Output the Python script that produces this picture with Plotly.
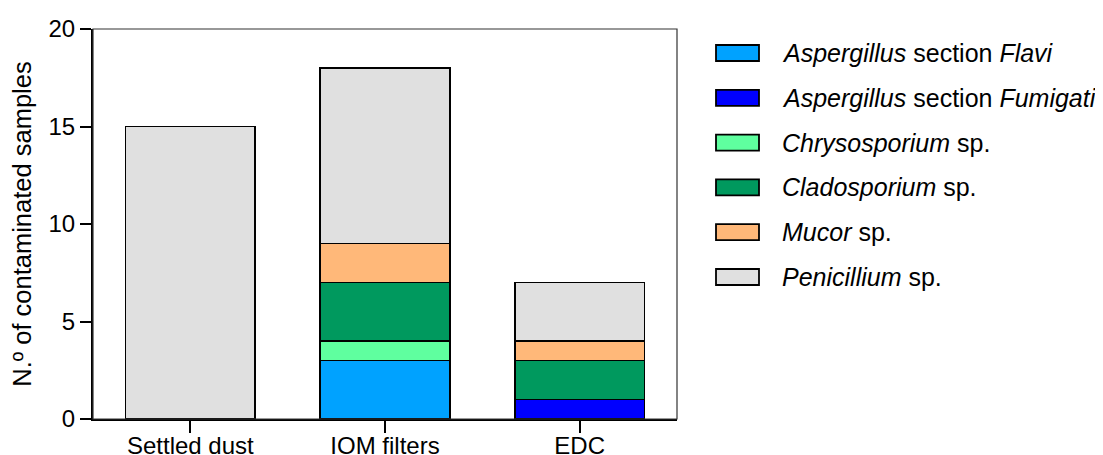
import plotly.graph_objects as go

categories = ["Settled dust", "IOM filters", "EDC"]
series_names = [
    "<i>Aspergillus</i> section <i>Flavi</i>",
    "<i>Aspergillus</i> section <i>Fumigati</i>",
    "<i>Chrysosporium</i> sp.",
    "<i>Cladosporium</i> sp.",
    "<i>Mucor</i> sp.",
    "<i>Penicillium</i> sp.",
]
flavi = [None, 3, None]
fumigati = [None, None, 1]
chrysosporium = [None, 1, None]
cladosporium = [None, 3, 2]
mucor = [None, 2, 1]
penicillium = [15, 9, 3]
series_values = [flavi, fumigati, chrysosporium, cladosporium, mucor, penicillium]
colors = ["#00A2FF", "#0000FF", "#5FFF9F", "#00995E", "#FFB879", "#E0E0E0"]
y_ticks = [0, 5, 10, 15, 20]

FONT = "Liberation Sans, Arial, sans-serif"
OFF = 8  # page body margin
W, H = 1103 - OFF, 455 - OFF
L, R, T, B = 93 - OFF, 426, 29 - OFF, 36
PW, PH = W - L - R, H - T - B

fig = go.Figure()
for name, vals, col in zip(series_names, series_values, colors):
    fig.add_trace(go.Bar(
        x=categories, y=vals, name=name, marker_color=col,
        marker_line=dict(color="black", width=1.8), showlegend=False,
    ))

def px_x(p):
    return (p - OFF - L) / PW

def px_y(p):
    return (H - B - (p - OFF)) / PH

shapes = [
    dict(type="rect", xref="paper", yref="paper", x0=0, x1=1, y0=0, y1=1,
         line=dict(color="#333333", width=1.2), layer="above"),
]
annotations = []
row0, step = 53, 44.8
for i, (name, col) in enumerate(zip(series_names, colors)):
    cy = row0 + i * step
    shapes.append(dict(type="rect", xref="paper", yref="paper",
                       x0=px_x(716), x1=px_x(759), y0=px_y(cy + 8), y1=px_y(cy - 8),
                       fillcolor=col, line=dict(color="black", width=1.8)))
    annotations.append(dict(xref="paper", yref="paper", x=px_x(780), y=px_y(cy),
                            xanchor="left", yanchor="middle", showarrow=False,
                            text=name, font=dict(family=FONT, size=25, color="black")))

fig.update_layout(
    width=W, height=H,
    margin=dict(l=L, r=R, t=T, b=B, autoexpand=False),
    paper_bgcolor="white", plot_bgcolor="white",
    barmode="stack", bargap=0.333,
    font=dict(family=FONT, size=24, color="black"),
    shapes=shapes, annotations=annotations,
    showlegend=False,
)
fig.update_xaxes(
    range=[-0.5, 2.5], showgrid=False, showline=True, linecolor="black", linewidth=2,
    ticks="outside", ticklen=12, tickwidth=1.8, tickcolor="black",
    ticklabelstandoff=-8,
    tickfont=dict(family=FONT, size=24, color="black"),
)
fig.update_yaxes(
    range=[0, 20], tickvals=y_ticks, showgrid=False, zeroline=False,
    showline=True, linecolor="black", linewidth=2,
    ticks="outside", ticklen=11, tickwidth=1.5, tickcolor="black",
    tickfont=dict(family=FONT, size=24, color="black"),
    title=dict(text="N.º of contaminated samples", standoff=11,
               font=dict(family=FONT, size=25.5, color="black")),
)
fig.write_html("out.html")
